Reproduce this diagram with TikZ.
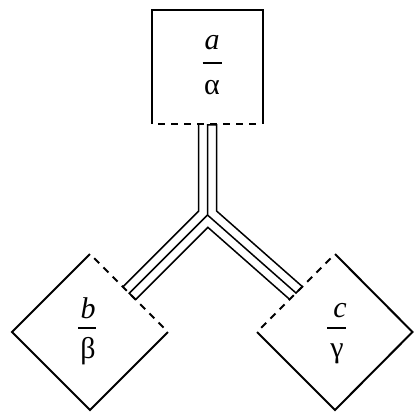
\documentclass[tikz,border=0pt]{standalone}
\usepackage{fontspec}
\setmainfont{Liberation Serif}
\begin{document}
\begin{tikzpicture}[x=1pt,y=-1pt,
  boxline/.style={line width=2pt},
  dashside/.style={line width=2pt, dash pattern=on 7pt off 6pt, shorten <=6pt, shorten >=6pt},
  channel/.style={line width=1.5pt, line join=miter},
  lbl/.style={font=\fontsize{30}{36}\selectfont, inner sep=0pt, anchor=base},
  fracbar/.style={line width=1.8pt}]
\useasboundingbox (0,0) rectangle (414,414);
% top box
\coordinate (A1) at (152,124);
\coordinate (A2) at (152,10);
\coordinate (A3) at (263,10);
\coordinate (A4) at (263,124);
\draw[boxline] (A1) -- (A2) -- (A3) -- (A4);
\draw[dashside] (A1) -- (A4);
% left diamond
\coordinate (BT) at (90,254);
\coordinate (BL) at (12,332);
\coordinate (BB) at (90,410);
\coordinate (BR) at (168,332);
\draw[boxline] (BR) -- (BB) -- (BL) -- (BT);
\draw[dashside] (BT) -- (BR);
% right diamond
\coordinate (CL) at (257,332);
\coordinate (CT) at (335,254);
\coordinate (CR) at (412.5,332);
\coordinate (CB) at (335,410);
\draw[boxline] (CT) -- (CR) -- (CB) -- (CL);
\draw[dashside] (CL) -- (CT);
% channel
\coordinate (S1) at (198.5,125);
\coordinate (S2) at (207.5,125);
\coordinate (S3) at (216.5,125);
\coordinate (J) at (207.5,215);
\coordinate (KL) at (198.5,211.27);
\coordinate (KR) at (216.5,210.94);
\coordinate (AP) at (207.89,227.34);
\coordinate (LU) at (122.89,286.89);
\coordinate (LM) at (129.25,293.25);
\coordinate (LD) at (135.61,299.61);
\coordinate (RU) at (302.38,286.63);
\coordinate (RM) at (296,293);
\coordinate (RD) at (289.62,299.37);
\draw[channel] (S1) -- (KL) -- (LU);
\draw[channel] (LD) -- (LM) -- (J) -- (RM) -- (RU) -- (KR) -- (S3) -- (S2) -- (J);
\draw[channel] (LD) -- (AP) -- (RD);
% labels
\node[lbl] (na) at (212,50) {\itshape a};
\coordinate (fa1) at (202.5,63);
\coordinate (fa2) at (221.5,63);
\draw[fracbar] (fa1) -- (fa2);
\node[lbl] (nalpha) at (212,95) {α};
\node[lbl] (nb) at (88,318) {\itshape b};
\coordinate (fb1) at (78,328);
\coordinate (fb2) at (96,328);
\draw[fracbar] (fb1) -- (fb2);
\node[lbl] (nbeta) at (88,358) {β};
\node[lbl] (nc) at (340,317) {\itshape c};
\coordinate (fc1) at (327,328);
\coordinate (fc2) at (346,328);
\draw[fracbar] (fc1) -- (fc2);
\node[lbl] (ngamma) at (337,357) {γ};
\end{tikzpicture}
\end{document}
